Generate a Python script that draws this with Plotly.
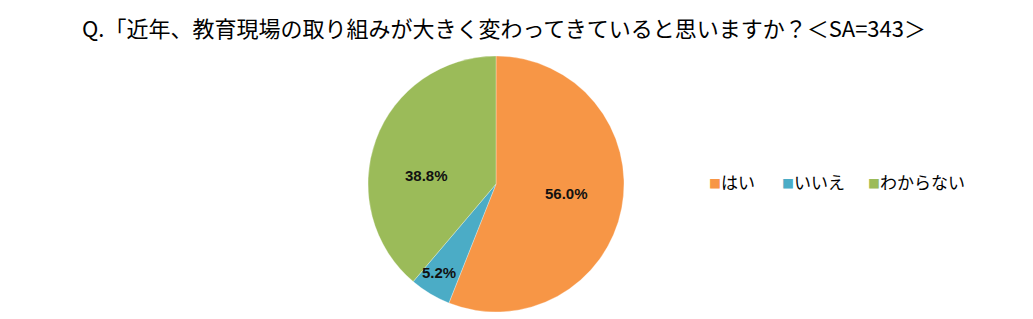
import math
import plotly.graph_objects as go

categories = ["はい", "いいえ", "わからない"]
values = [56.0, 5.2, 38.8]
colors = ["#F79646", "#4BACC6", "#9BBB59"]
title_text = "Q.「近年、教育現場の取り組みが大きく変わってきていると思いますか？＜SA=343＞"

W, H = 1033, 319
cx_px, cy_px, r_px = 496, 184, 128
label_radius = [0.555, 0.895, 0.545]
label_angle_shift = [-3.5, -1.0, -13.0]  # degrees, label placement tweak
legend_x_px = [707, 780, 866]
legend_y_px = 181

fig = go.Figure(go.Pie(
    labels=categories,
    values=values,
    marker=dict(colors=colors, line=dict(color="white", width=0.3)),
    sort=False,
    direction="clockwise",
    rotation=0,
    textinfo="none",
    hoverinfo="label+percent",
    showlegend=False,
    domain=dict(x=[(cx_px - r_px) / W, (cx_px + r_px) / W],
                y=[(H - cy_px - r_px) / H, (H - cy_px + r_px) / H]),
))

total = sum(values)
cum = 0.0
annotations = []
for v, fr, sh in zip(values, label_radius, label_angle_shift):
    mid = (cum + v / 2) / total * 2 * math.pi + math.radians(sh)
    cum += v
    x = (cx_px + fr * r_px * math.sin(mid)) / W
    y = (H - cy_px + fr * r_px * math.cos(mid)) / H
    annotations.append(dict(x=x, y=y, xref="paper", yref="paper",
                            text=f"<b>{v:.1f}%</b>", showarrow=False,
                            font=dict(size=15, color="#111111", family="Liberation Sans, Arial")))

# manual legend (colored square + label)
for cat, col, lx in zip(categories, colors, legend_x_px):
    annotations.append(dict(x=lx / W, y=1 - legend_y_px / H, xref="paper", yref="paper",
                            xanchor="left", yanchor="middle", showarrow=False,
                            text=f"<span style='color:{col};font-size:12px'>■</span>{cat}",
                            font=dict(size=17, color="#000000", family="Noto Sans CJK JP")))

fig.update_layout(
    width=W, height=H,
    margin=dict(l=0, r=0, t=0, b=0),
    paper_bgcolor="white",
    plot_bgcolor="white",
    title=dict(text=title_text, x=504 / W, xanchor="center", y=1 - 29 / H, yanchor="middle",
               font=dict(size=22, color="#000000", family="Noto Sans CJK JP")),
    annotations=annotations,
)

fig.write_html("out.html")
